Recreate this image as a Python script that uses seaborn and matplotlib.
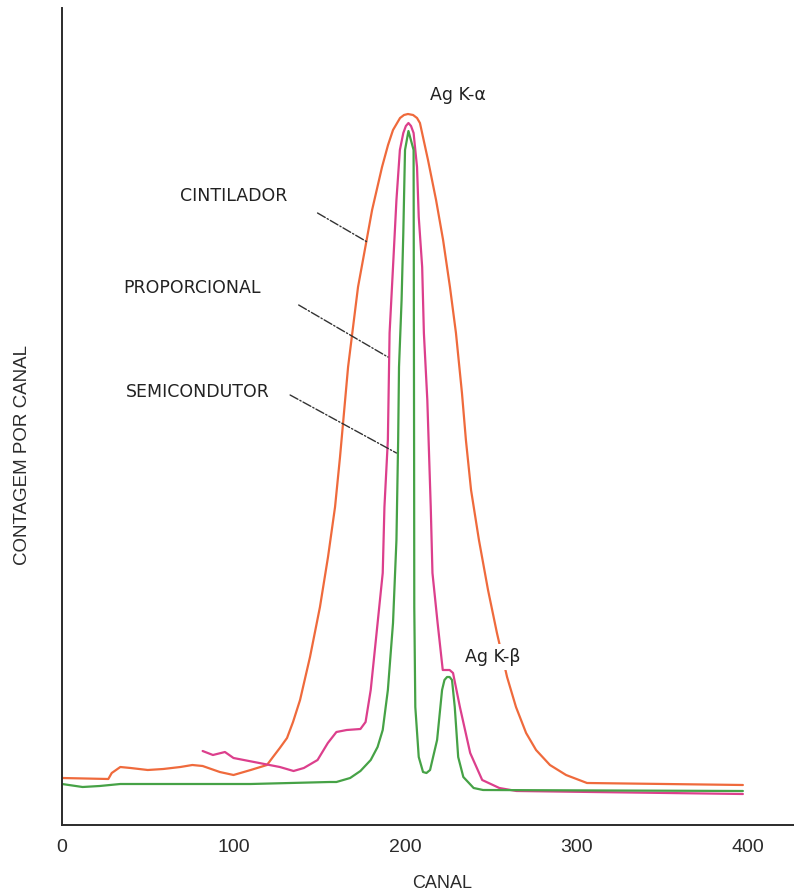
import matplotlib
matplotlib.use("Agg")
import matplotlib.pyplot as plt
import seaborn as sns

# --- Spectra of the Ag K lines seen by three detector types -------------
# Channel numbers and counts per channel (arbitrary units)
cintilador_canal = [0, 27, 29, 34, 40, 50, 59, 69, 76, 82, 92, 100, 110, 119.5,
                    123, 127, 131.2, 134.7, 138.8, 144.6, 150.4, 155.1, 159.2, 162.1,
                    164.4, 166.8, 169.7, 172.6, 177.3, 180.8, 186.6, 190.1, 193,
                    197.1, 199.4, 201.7, 204.7, 207, 208.7, 213.4, 218.1, 222.2,
                    226.2, 229.7, 233.2, 235.5, 238.5, 243.1, 248.4, 253.6, 259.5,
                    264.7, 270.6, 276.4, 284.5, 293.9, 306.1, 397]
cintilador_contagem = [47, 46, 52, 58, 57, 55, 56, 58, 60, 59, 53, 50, 55, 60,
                       68, 77, 87, 103, 125, 168, 218, 268, 318, 368,
                       412, 458, 498, 538, 582, 615, 658, 680, 695,
                       707, 710, 711, 710, 707, 702, 665, 625, 585,
                       538, 492, 432, 385, 335, 285, 235, 192, 148,
                       118, 92, 75, 60, 50, 42, 40]

proporcional_canal = [82, 88, 95, 100, 115, 127, 135, 141, 149, 155, 160, 166, 174,
                      177, 180, 183, 187, 188, 190, 191, 193, 195, 197, 199, 200.5,
                      202, 203.5, 205, 207, 208, 210, 211, 213, 215, 216, 219, 222,
                      226, 228, 232, 238, 245, 255, 265, 397]
proporcional_contagem = [74, 70, 73, 67, 62, 58, 54, 57, 65, 82, 93, 95, 96, 103,
                         135, 185, 252, 318, 385, 492, 558, 625, 675, 692, 699,
                         702, 699, 692, 658, 608, 558, 492, 425, 318, 252, 202, 155,
                         155, 152, 118, 72, 45, 37, 34, 31]

semicondutor_canal = [0, 12, 22, 34, 110, 156, 160, 168, 174, 180, 184, 187, 190,
                      193, 195, 196, 196.5, 198, 199, 200, 202, 205, 205.3, 205.4,
                      206, 208, 210.5, 212.5, 214.6, 218.7, 221.6, 223, 224.5, 226,
                      227.4, 229, 231, 234, 240, 245.5, 397]
semicondutor_contagem = [41, 38, 39, 41, 41, 43, 43, 47, 54, 65, 78, 95, 135,
                         202, 285, 385, 458, 525, 592, 675, 694, 675, 368, 218,
                         118, 68, 53, 52, 55, 85, 135, 145, 148, 148,
                         145, 118, 68, 48, 37, 35, 34]

series_names = ["CINTILADOR", "PROPORCIONAL", "SEMICONDUTOR"]
series_colors = ["#ef6a3c", "#dc3f8c", "#46a246"]

# Figure size and style
W, H = 794, 896
sns.set_style("white")
plt.rcParams["font.family"] = ["Liberation Sans", "DejaVu Sans"]

fig = plt.figure(figsize=(W / 100, H / 100), dpi=100)
ax = fig.add_axes([62 / W, 71 / H, 732 / W, 817 / H])

curves = [(cintilador_canal, cintilador_contagem),
          (proporcional_canal, proporcional_contagem),
          (semicondutor_canal, semicondutor_contagem)]
for (cx, cy), col in zip(curves, series_colors):
    sns.lineplot(x=cx, y=cy, ax=ax, color=col, linewidth=1.6,
                 estimator=None, sort=False)

ax.set_xlim(0, 426.8)
ax.set_ylim(0, 817)
ax.set_xticks([0, 100, 200, 300, 400])
ax.set_yticks([])
for side in ("top", "right"):
    ax.spines[side].set_visible(False)
for side in ("left", "bottom"):
    ax.spines[side].set_color("#2b2b2b")
    ax.spines[side].set_linewidth(1.4)
ax.tick_params(axis="x", direction="inout", length=10, width=1.2,
               colors="#2b2b2b", labelsize=14, pad=5)

ax.set_xlabel("CANAL", fontsize=13, color="#2b2b2b", va="center")
ax.xaxis.set_label_coords(0.519, -0.072)
ax.set_ylabel("CONTAGEM POR CANAL", fontsize=13.5, color="#2b2b2b", va="center")
ax.yaxis.set_label_coords(-0.0546, 0.453)

# Detector labels with dash-dot leader lines pointing at each curve
label_font = dict(family=["DejaVu Sans"], fontsize=12.5, color="#222222",
                  ha="center", va="center")
leaders = [((100, 629), (149, 612), (178, 583)),
           ((76, 537), (138, 520), (190, 468)),
           ((79, 433), (133, 430), (195, 372))]
for name, (txt, p0, p1) in zip(series_names, leaders):
    ax.text(txt[0], txt[1], name, **label_font)
    ax.annotate("", xy=p1, xytext=p0,
                arrowprops=dict(arrowstyle="-", color="#333333", lw=1.0,
                                linestyle="-.", shrinkA=0, shrinkB=0))

ax.text(231, 730, "Ag K-\u03b1", **label_font)
# The K-beta label sits on a white patch that interrupts the scintillator curve
ax.text(251, 168, "Ag K-\u03b2", zorder=5,
        bbox=dict(facecolor="white", edgecolor="none", pad=3), **label_font)

fig.savefig("out.png", dpi=100)
